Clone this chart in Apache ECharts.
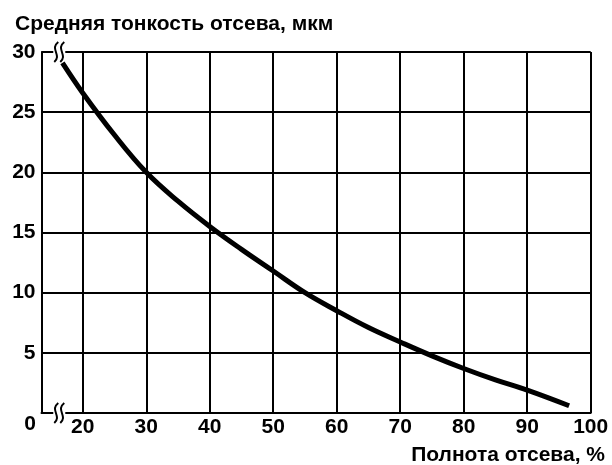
<!DOCTYPE html>
<html><head><meta charset="utf-8">
<script src="https://cdn.jsdelivr.net/npm/echarts@6/dist/echarts.min.js"></script>
<style>html,body{margin:0;padding:0;background:#fff}#c{width:612px;height:465px}</style>
</head><body><div id="c"></div>
<script>
const yTitle = 'Средняя тонкость отсева, мкм';
const xTitle = 'Полнота отсева, %';
const xTicks = [20, 30, 40, 50, 60, 70, 80, 90, 100];
const yTicks = [5, 10, 15, 20, 25, 30];
const originLabel = '0';
const curveX = [16.8, 20, 25, 30, 35, 40, 45, 50, 55, 60, 65, 70, 75, 80, 85, 90, 96.6];
const curveY = [29.1, 26.6, 23.1, 20.0, 17.6, 15.5, 13.6, 11.8, 10.0, 8.5, 7.1, 5.9, 4.75, 3.7, 2.75, 1.9, 0.6];
const xMin = 13.5, xMax = 100, yMin = 0, yMax = 30;
const breakX = 16.3;

const FONT = 'Liberation Sans, Arial, sans-serif';
const txt = {fontFamily: FONT, fontWeight: 'bold', fontSize: 21, color: '#000'};
const chart = echarts.init(document.getElementById('c'), null, {renderer: 'canvas'});
const lineStyle = {color: '#000', width: 2};
chart.setOption({
  animation: false,
  backgroundColor: '#fff',
  title: [
    {text: yTitle, left: 10, top: 9, textStyle: txt},
    {text: xTitle, right: 2, top: 440, textStyle: txt}
  ],
  grid: {left: 41.5, right: 21.3, top: 52, bottom: 52, containLabel: false},
  xAxis: {
    type: 'value', min: xMin, max: xMax,
    axisLine: {show: true, onZero: false, lineStyle: lineStyle},
    axisTick: {show: false, customValues: xTicks},
    axisLabel: Object.assign({customValues: xTicks, margin: 4}, txt),
    splitLine: {show: true, lineStyle: lineStyle}
  },
  yAxis: {
    type: 'value', min: yMin, max: yMax, interval: 5,
    axisLine: {show: true, onZero: false, lineStyle: lineStyle},
    axisTick: {show: false},
    axisLabel: Object.assign({margin: 6, formatter: v => (yTicks.indexOf(v) >= 0 ? String(v) : '')}, txt),
    splitLine: {show: true, lineStyle: lineStyle}
  },
  series: [{
    type: 'line',
    data: curveX.map((x, i) => [x, curveY[i]]),
    smooth: 0.4,
    symbol: 'none',
    lineStyle: {color: '#000', width: 5, cap: 'butt'},
    z: 5
  }]
});

function drawExtras() {
  const top = chart.convertToPixel({gridIndex: 0}, [breakX, yMax]);
  const bot = chart.convertToPixel({gridIndex: 0}, [breakX, yMin]);
  const orig = chart.convertToPixel({gridIndex: 0}, [xMin, yMin]);
  const mk = (p, dx) => ({type: 'bezierCurve', x: p[0] + dx, y: p[1], z: 20,
    shape: {x1: 2, y1: -10, cpx1: -7, cpy1: -3, cpx2: 6, cpy2: 3, x2: -2, y2: 10},
    style: {fill: null, stroke: '#000', lineWidth: 2}});
  const gap = p => ({type: 'rect', z: 15, shape: {x: p[0] - 6, y: p[1] - 3, width: 12, height: 6}, style: {fill: '#fff'}});
  chart.setOption({graphic: [
    gap(top), gap(bot),
    mk(top, -3), mk(top, 3), mk(bot, -3), mk(bot, 3),
    {type: 'text', x: orig[0] - 11.5, y: orig[1] + 11.5, z: 20,
     style: {text: originLabel, font: 'bold 21px ' + FONT, fill: '#000', align: 'center', verticalAlign: 'middle'}}
  ]});
}
drawExtras();
</script></body></html>
